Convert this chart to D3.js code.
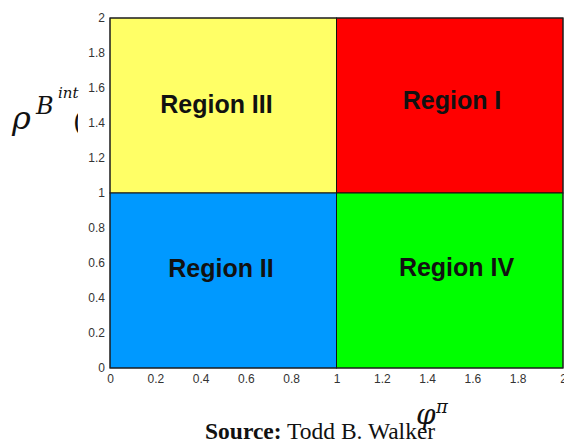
<!DOCTYPE html>
<html>
<head>
<meta charset="utf-8">
<script src="https://cdn.jsdelivr.net/npm/d3@7/dist/d3.min.js"></script>
<style>
  body { margin: 0; background: #fff; }
  svg { display: block; }
</style>
</head>
<body>
<svg id="chart" width="564" height="443"></svg>
<script>
// quadrant regions in data units
var regionNames = ['Region III', 'Region I', 'Region II', 'Region IV'];
var regionX0 = [0, 1, 0, 1];
var regionX1 = [1, 2, 1, 2];
var regionY0 = [1, 1, 0, 0];
var regionY1 = [2, 2, 1, 1];
var regionColors = ['#ffff66', '#ff0000', '#0099ff', '#00ff00'];
// label anchors (data units)
var labelX = [0.47, 1.51, 0.49, 1.53];
var labelY = [1.51, 1.53, 0.57, 0.58];

var xTicks = [0, 0.2, 0.4, 0.6, 0.8, 1, 1.2, 1.4, 1.6, 1.8, 2];
var yTicks = [0, 0.2, 0.4, 0.6, 0.8, 1, 1.2, 1.4, 1.6, 1.8, 2];

var svg = d3.select('#chart');
var margin = { left: 110, top: 18, right: 1, bottom: 75 };
var width = 564 - margin.left - margin.right;
var height = 443 - margin.top - margin.bottom;

var x = d3.scaleLinear().domain([0, 2]).range([0, width]);
var y = d3.scaleLinear().domain([0, 2]).range([height, 0]);

// y axis label (partly hidden, like the reference)
var yl = svg.append('g').attr('font-family', 'DejaVu Serif, serif').attr('font-style', 'italic').attr('fill', '#111');
yl.append('text').attr('x', 12).attr('y', 129).attr('font-size', 32).text('ρ');
yl.append('text').attr('x', 36).attr('y', 114).attr('font-size', 24).text('B');
yl.append('text').attr('x', 58).attr('y', 98).attr('font-size', 15).text('int');
svg.append('clipPath').attr('id', 'pclip')
  .append('rect').attr('x', 68).attr('y', 104).attr('width', 10).attr('height', 40);
yl.append('text').attr('x', 73).attr('y', 131).attr('font-size', 26)
  .attr('clip-path', 'url(#pclip)').attr('font-style', 'normal').text('(');

var g = svg.append('g').attr('transform', 'translate(' + margin.left + ',' + margin.top + ')');

var idx = d3.range(regionNames.length);

g.selectAll('rect.region')
  .data(idx)
  .enter()
  .append('rect')
  .attr('class', 'region')
  .attr('x', function(i) { return x(regionX0[i]); })
  .attr('y', function(i) { return y(regionY1[i]); })
  .attr('width', function(i) { return x(regionX1[i]) - x(regionX0[i]); })
  .attr('height', function(i) { return y(regionY0[i]) - y(regionY1[i]); })
  .attr('fill', function(i) { return regionColors[i]; })
  .attr('stroke', '#111')
  .attr('stroke-width', 1);

g.selectAll('text.region-label')
  .data(idx)
  .enter()
  .append('text')
  .attr('class', 'region-label')
  .attr('x', function(i) { return x(labelX[i]); })
  .attr('y', function(i) { return y(labelY[i]); })
  .attr('text-anchor', 'middle')
  .attr('dominant-baseline', 'central')
  .attr('font-family', 'Liberation Sans, Arial, sans-serif')
  .attr('font-weight', 'bold')
  .attr('font-size', 25)
  .attr('fill', '#111')
  .text(function(i) { return regionNames[i]; });

// frame
g.append('rect')
  .attr('x', 0).attr('y', 0).attr('width', width).attr('height', height)
  .attr('fill', 'none').attr('stroke', '#222').attr('stroke-width', 1);

var xAxis = d3.axisBottom(x).tickValues(xTicks).tickSize(0).tickPadding(6)
  .tickFormat(function(d) { return String(d); });
var yAxis = d3.axisLeft(y).tickValues(yTicks).tickSize(0).tickPadding(5)
  .tickFormat(function(d) { return String(d); });

var gx = g.append('g').attr('transform', 'translate(0,' + height + ')').call(xAxis);
var gy = g.append('g').call(yAxis);
[gx, gy].forEach(function(a) {
  a.select('.domain').remove();
  a.selectAll('text')
    .attr('font-family', 'Liberation Sans, Arial, sans-serif')
    .attr('font-size', 12)
    .attr('fill', '#333');
});

// source line
var src = svg.append('text')
  .attr('x', 205).attr('y', 439)
  .attr('font-family', 'Liberation Serif, Times New Roman, serif')
  .attr('font-size', 23.5)
  .attr('fill', '#111');
src.append('tspan').attr('font-weight', 'bold').text('Source:');
src.append('tspan').text(' Todd B. Walker');

// x axis label (overlaps the source line, as in the reference)
var xl = svg.append('g').attr('font-family', 'DejaVu Serif, serif').attr('font-style', 'italic').attr('fill', '#111');
xl.append('text').attr('x', 416).attr('y', 424).attr('font-size', 28).text('φ');
xl.append('text').attr('x', 436).attr('y', 413).attr('font-size', 18).text('π');
</script>
</body>
</html>
